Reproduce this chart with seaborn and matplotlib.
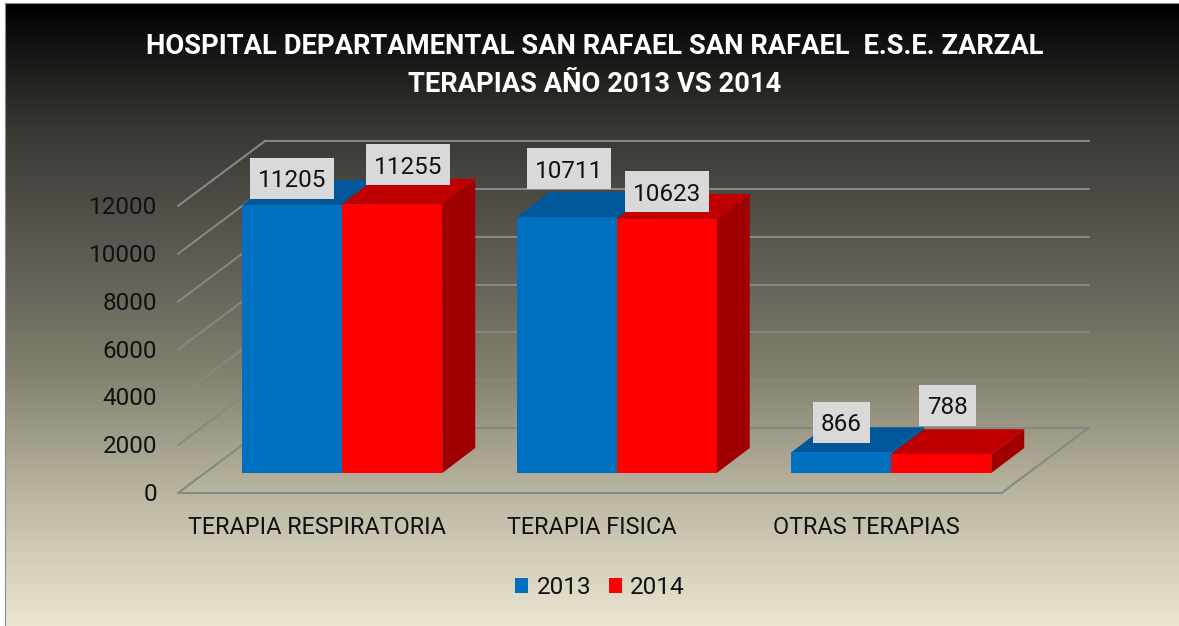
import numpy as np
import pandas as pd
import matplotlib
matplotlib.use('Agg')
import matplotlib.pyplot as plt
import seaborn as sns
from matplotlib.colors import LinearSegmentedColormap
from matplotlib.patches import Polygon, Rectangle
from matplotlib.transforms import Affine2D

categories = ['TERAPIA RESPIRATORIA', 'TERAPIA FISICA', 'OTRAS TERAPIAS']
years = ['2013', '2014']
values_2013 = [11205, 10711, 866]
values_2014 = [11255, 10623, 788]
y_ticks = [0, 2000, 4000, 6000, 8000, 10000, 12000]

W, H = 1179, 626
FRONT = (-27, -20)
BACK = (60, 45)
DEPTH = (33, 25)
top_colors = ['#00589A', '#C00000']
side_colors = ['#004F86', '#A00000']
offsets_2013 = [(0, 27), (2, 48), (0, 30)]
offsets_2014 = [(16, 39), (0, 27), (6, 49)]
FS = 17.5

df = pd.DataFrame({
    'categoria': categories * 2,
    'year': [years[0]] * 3 + [years[1]] * 3,
    'valor': values_2013 + values_2014,
})

sns.set_style('white')
plt.rcParams['font.family'] = ['Roboto', 'DejaVu Sans']
fig = plt.figure(figsize=(W / 100, H / 100), dpi=100, facecolor='white')

# fondo degradado
bg = fig.add_axes([5 / W, 0, 1 - 5 / W, 1 - 3 / H], zorder=0)
cmap = LinearSegmentedColormap.from_list('fondo', [
    (0, '#000000'), (0.2, '#393732'), (0.45, '#65635a'),
    (0.6, '#85826f'), (0.8, '#bdb9a5'), (1, '#ebe6d2')], N=512)
bg.imshow(np.linspace(0, 1, 512)[:, None], aspect='auto', cmap=cmap)
bg.set_xticks([])
bg.set_yticks([])
for s in bg.spines.values():
    s.set_visible(False)
bg.spines['left'].set_visible(True)
bg.spines['top'].set_visible(True)
bg.spines['left'].set_color('#8a8a8a')
bg.spines['top'].set_color('#8a8a8a')

ax = fig.add_axes([205 / W, (H - 473) / H, 823.5 / W, 287 / H], zorder=1)
ax.patch.set_alpha(0)
sns.barplot(data=df, x='categoria', y='valor', hue='year', hue_order=years,
            palette=['#0070C0', '#FF0000'], width=0.7286, gap=0, saturation=1,
            dodge=True, ax=ax, zorder=5, linewidth=0)
ax.set_xlim(-0.5, 2.5)
ax.set_ylim(0, 12000)
ax.set_xlabel('')
ax.set_ylabel('')
ax.set_yticks(y_ticks)
sns.despine(ax=ax, left=True, bottom=True)


def shift(dx, dy):
    return ax.transData + Affine2D().translate(dx, dy)


# paredes y piso
grid_color = '#878785'
for t in y_ticks:
    ax.plot([-0.5, 2.5], [t, t], color=grid_color, lw=1.5, clip_on=False,
            transform=shift(*BACK), zorder=1)
    p0 = shift(*FRONT).transform((-0.5, t))
    p1 = shift(*BACK).transform((-0.5, t))
    ax.plot([p0[0], p1[0]], [p0[1], p1[1]], color=grid_color, lw=1.5,
            clip_on=False, transform=None, zorder=1)
ax.plot([-0.5, 2.5], [0, 0], color=grid_color, lw=1.5, clip_on=False,
        transform=shift(*FRONT), zorder=1)
p0 = shift(*FRONT).transform((2.5, 0))
p1 = shift(*BACK).transform((2.5, 0))
ax.plot([p0[0], p1[0]], [p0[1], p1[1]], color=grid_color, lw=1.5,
        clip_on=False, transform=None, zorder=1)

# caras 3D de cada barra
bars = [b for c in ax.containers for b in c]
for i, b in enumerate(bars):
    serie = i // 3
    x0, y0 = ax.transData.transform((b.get_x(), 0))
    x1, y1 = ax.transData.transform((b.get_x() + b.get_width(), b.get_height()))
    dx, dy = DEPTH
    z = 2 + serie
    ax.add_patch(Polygon([(x1, y0), (x1 + dx, y0 + dy), (x1 + dx, y1 + dy), (x1, y1)],
                         closed=True, fc=side_colors[serie], ec='none',
                         transform=None, clip_on=False, zorder=z))
    ax.add_patch(Polygon([(x0, y1), (x1, y1), (x1 + dx, y1 + dy), (x0 + dx, y1 + dy)],
                         closed=True, fc=top_colors[serie], ec='none',
                         transform=None, clip_on=False, zorder=z))

# etiquetas de datos
label_offsets = offsets_2013 + offsets_2014
for i, b in enumerate(bars):
    val = int(b.get_height())
    cx, cy = ax.transData.transform((b.get_x() + b.get_width() / 2, val))
    ox, oy = label_offsets[i]
    w = 84 if val > 999 else 57
    ax.add_patch(Rectangle((cx + ox - w / 2, cy + oy - 20.5), w, 41, fc='#D9D9D9',
                           ec='none', transform=None, clip_on=False, zorder=8))
    ax.text(cx + ox, cy + oy, str(val), transform=None, ha='center', va='center_baseline',
            fontsize=FS, color='#111111', zorder=9, clip_on=False)

# ejes
ax.tick_params(axis='both', length=0, labelsize=FS, labelcolor='#111111')
ax.tick_params(axis='y', pad=34.5)
ax.tick_params(axis='x', pad=31, labelsize=16.8)
for lab in ax.get_yticklabels():
    lab.set_transform(lab.get_transform() + Affine2D().translate(0, -19))
for lab in ax.get_xticklabels():
    lab.set_transform(lab.get_transform() + Affine2D().translate(-25, 0))

h, l = ax.get_legend_handles_labels()
ax.get_legend().remove()
fig.legend(h, l, loc='center', bbox_to_anchor=(600 / W, 1 - 587.5 / H), ncol=2, frameon=False,
           fontsize=FS, handlelength=0.53, handleheight=0.62, handletextpad=0.33,
           columnspacing=0.74, labelcolor='#111111')

fig.text(595 / W, 1 - 46.5 / H, 'HOSPITAL DEPARTAMENTAL SAN RAFAEL SAN RAFAEL  E.S.E. ZARZAL',
         color='white', fontsize=19.7, fontweight='bold', ha='center', va='center', zorder=10)
fig.text(595 / W, 1 - 85 / H, 'TERAPIAS AÑO 2013 VS 2014',
         color='white', fontsize=19.7, fontweight='bold', ha='center', va='center', zorder=10)

fig.savefig('out.png', dpi=100)
